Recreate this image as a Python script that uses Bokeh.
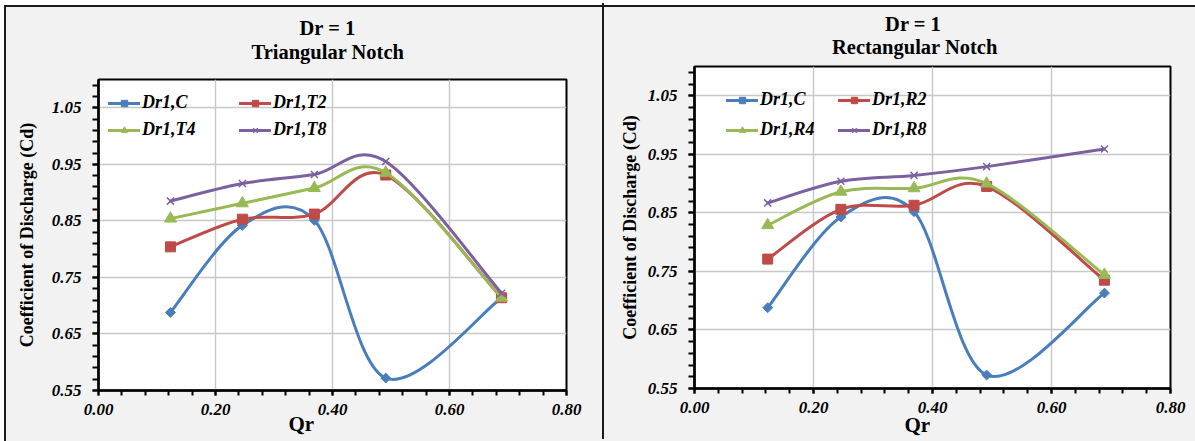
import numpy as np
from bokeh.plotting import figure
from bokeh.layouts import row
from bokeh.models import (Range1d, FixedTicker, PrintfTickFormatter, Title,
                          Legend, LegendItem)
from bokeh.embed import file_html
from bokeh.resources import INLINE

# ---------------- data ----------------
qr = [0.123, 0.246, 0.369, 0.491, 0.689]

tri_names = ["Dr1,C", "Dr1,T2", "Dr1,T4", "Dr1,T8"]
tri_C = [0.688, 0.842, 0.851, 0.572, 0.714]
tri_T2 = [0.804, 0.853, 0.862, 0.931, 0.714]
tri_T4 = [0.854, 0.881, 0.908, 0.935, 0.714]
tri_T8 = [0.885, 0.916, 0.932, 0.955, 0.722]

rect_names = ["Dr1,C", "Dr1,R2", "Dr1,R4", "Dr1,R8"]
rect_C = [0.688, 0.843, 0.852, 0.573, 0.713]
rect_R2 = [0.771, 0.856, 0.863, 0.895, 0.735]
rect_R4 = [0.829, 0.886, 0.892, 0.900, 0.744]
rect_R8 = [0.867, 0.904, 0.914, 0.929, 0.959]

x_ticks = [0.0, 0.2, 0.4, 0.6, 0.8]
y_ticks = [0.55, 0.65, 0.75, 0.85, 0.95, 1.05]

# ---------------- style ----------------
FONT = "Liberation Serif"
COLORS = ["#4A7EBB", "#BE4B48", "#98B954", "#7D60A0"]
MARKERS = [("square", 7, np.pi / 4), ("square", 10, 0.0), ("triangle", 12, 0.0), ("x", 10, 0.0)]
PANEL_BG = "#F2F2F2"
EDGE = "2px solid #1A1A1A"


def smooth_controls(xs, ys):
    """Excel-like smoothed line: cubic Bezier control points (Catmull-Rom)."""
    n = len(xs)
    out = {k: [] for k in ("x0", "y0", "x1", "y1", "cx0", "cy0", "cx1", "cy1")}
    for i in range(n - 1):
        xm, ym = (xs[i - 1], ys[i - 1]) if i > 0 else (xs[i], ys[i])
        xp, yp = (xs[i + 2], ys[i + 2]) if i + 2 < n else (xs[i + 1], ys[i + 1])
        out["x0"].append(xs[i]); out["y0"].append(ys[i])
        out["x1"].append(xs[i + 1]); out["y1"].append(ys[i + 1])
        out["cx0"].append(xs[i] + (xs[i + 1] - xm) / 6)
        out["cy0"].append(ys[i] + (ys[i + 1] - ym) / 6)
        out["cx1"].append(xs[i + 1] - (xp - xs[i]) / 6)
        out["cy1"].append(ys[i + 1] - (yp - ys[i]) / 6)
    return out


def make_title(text, standoff, **kw):
    t = Title(text=text, text_font=FONT, text_font_style="bold",
              text_color="black", **kw)
    try:
        t.standoff = standoff
    except Exception:
        t.standoff = 0
    return t


def make_panel(names, series, width, height, mb_left, mb_right, mb_top, mb_bottom,
               ylab_standoff, legend_loc, legend_label_width, legend_spacing,
               sub_text, sub_offset, sub_standoff, main_offset, main_standoff,
               qr_offset, qr_standoff, styles):
    p = figure(width=width, height=height, output_backend="svg", toolbar_location=None,
               x_range=Range1d(0, 0.8), y_range=Range1d(0.55, 1.10),
               min_border_left=mb_left, min_border_right=mb_right,
               min_border_top=mb_top, min_border_bottom=mb_bottom,
               background_fill_color="white",
               border_fill_color=PANEL_BG, border_fill_alpha=0,
               outline_line_color="black", outline_line_width=2,
               styles=styles)

    # two-line chart title: "Dr = 1" on top, notch type just above the plot area
    p.title = make_title("Dr =  1", main_standoff, align="left", offset=main_offset,
                         vertical_align="bottom", text_font_size="20.5px")
    p.add_layout(make_title(sub_text, sub_standoff, align="left", offset=sub_offset,
                            vertical_align="top", text_font_size="20.5px"), "above")

    p.xaxis.ticker = FixedTicker(ticks=x_ticks,
                                 minor_ticks=[round(0.04 * i, 2) for i in range(21)])
    p.yaxis.ticker = FixedTicker(ticks=y_ticks,
                                 minor_ticks=[round(0.55 + 0.02 * i, 2) for i in range(28)])
    for ax in (p.xaxis[0], p.yaxis[0]):
        ax.formatter = PrintfTickFormatter(format="%.2f")
        ax.axis_line_color = "black"
        ax.axis_line_width = 2.5
        ax.major_tick_line_color = "black"
        ax.minor_tick_line_color = "black"
        ax.major_tick_line_width = 2
        ax.minor_tick_line_width = 2
        ax.major_tick_in = 0
        ax.minor_tick_in = 0
        ax.major_label_text_font = FONT
        ax.major_label_text_font_style = "bold italic"
        ax.major_label_text_font_size = "17px"
        ax.major_label_text_color = "black"
    p.xaxis.major_tick_out = 5
    p.xaxis.minor_tick_out = 5
    p.xaxis.major_label_standoff = 8
    p.yaxis.major_tick_out = 6
    p.yaxis.minor_tick_out = 6
    p.yaxis.major_label_standoff = 11

    p.yaxis.axis_label = "Coefficient of Discharge (Cd)"
    p.yaxis.axis_label_text_font = FONT
    p.yaxis.axis_label_text_font_style = "bold"
    p.yaxis.axis_label_text_font_size = "18px"
    p.yaxis.axis_label_text_color = "black"
    p.yaxis.axis_label_standoff = ylab_standoff

    # x-axis title "Qr" (offset to the left of centre, as in the original)
    p.add_layout(make_title("Qr", qr_standoff, align="left", offset=qr_offset,
                            vertical_align="top", text_font_size="21px"), "below")

    p.xgrid.grid_line_color = "#C8C8C8"
    p.ygrid.grid_line_color = "#C8C8C8"
    p.xgrid.grid_line_width = 1.4
    p.ygrid.grid_line_width = 1.4

    items = []
    for name, ys, color, (mk, sz, ang) in zip(names, series, COLORS, MARKERS):
        c = smooth_controls(qr, ys)
        bz = p.bezier(line_color=color, line_width=3, line_cap="round", **c)
        sc = p.scatter(qr, ys, marker=mk, size=sz, angle=ang, fill_color=color,
                       line_color=color, line_width=1.5 if mk == "x" else 1)
        items.append(LegendItem(label=name, renderers=[bz, sc]))

    leg = Legend(items=items, location=legend_loc, orientation="horizontal", ncols=2,
                 label_text_font=FONT, label_text_font_style="bold italic",
                 label_text_font_size="18px", label_text_color="black",
                 label_standoff=2, glyph_width=32, glyph_height=16,
                 label_width=legend_label_width, spacing=legend_spacing,
                 padding=0, margin=0, border_line_alpha=0, background_fill_alpha=0)
    p.add_layout(leg)
    return p


p1 = make_panel(tri_names, [tri_C, tri_T2, tri_T4, tri_T8],
                width=596, height=425, mb_left=92, mb_right=36, mb_top=63, mb_bottom=51,
                ylab_standoff=12, legend_loc=(10, 250), legend_label_width=91,
                legend_spacing=6,
                sub_text="Triangular Notch", sub_offset=153, sub_standoff=28.6,
                main_offset=201, main_standoff=-24.7,
                qr_offset=190, qr_standoff=-10.2,
                styles={"margin-top": "9px"})

p2 = make_panel(rect_names, [rect_C, rect_R2, rect_R4, rect_R8],
                width=593, height=436, mb_left=90, mb_right=27, mb_top=63, mb_bottom=51,
                ylab_standoff=5, legend_loc=(32, 248), legend_label_width=69,
                legend_spacing=9,
                sub_text="Rectangular Notch", sub_offset=137.5, sub_standoff=12.6,
                main_offset=190.6, main_standoff=-11.4,
                qr_offset=210, qr_standoff=-4.4,
                styles={"margin-top": "-4px", "border-left": EDGE})

layout = row(p1, p2, margin=(5, 0, 0, 4),
             styles={"border-top": EDGE, "border-left": EDGE,
                     "background-color": PANEL_BG})
open("out.html", "w").write(file_html(layout, INLINE))
